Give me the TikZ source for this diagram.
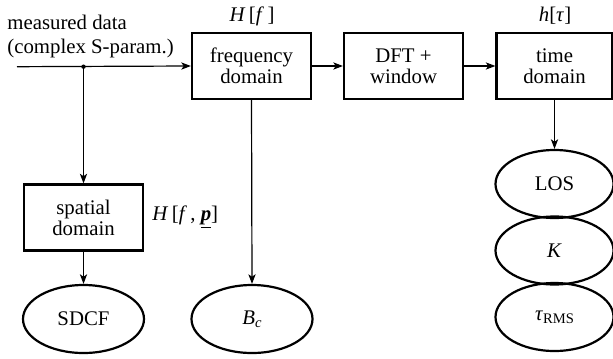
\documentclass[tikz,border=0pt]{standalone}
\usepackage{fontspec}
\setmainfont{Liberation Serif}
\usetikzlibrary{arrows.meta,shapes.geometric}
\newcommand{\vi}[1]{\textit{#1}}
\tikzset{
  blockbox/.style={draw, line width=1.1pt, minimum width=59.5pt, minimum height=33pt, inner sep=0pt, align=center, font=\fontsize{10.4}{10.4}\selectfont},
  resultell/.style={draw, ellipse, line width=1.1pt, minimum width=59pt, minimum height=34pt, inner sep=0pt, font=\fontsize{10.4}{10.4}\selectfont},
  conn/.style={line width=0.6pt, -{Stealth[length=4.8pt,width=3.6pt,inset=1.2pt]}},
  lbl/.style={inner sep=0pt, font=\fontsize{10.4}{11.6}\selectfont}
}
\begin{document}
\begin{tikzpicture}[x=0.5pt,y=-0.5pt]
\useasboundingbox (0,0) rectangle (613,358);
% blocks
\node[blockbox] (freq) at (251.5,66) {frequency\\domain};
\node[blockbox] (dft) at (403.5,66) {DFT +\\window};
\node[blockbox, minimum width=58pt] (time) at (554.5,66) {time\\domain};
\node[blockbox] (spat) at (83.5,217.5) {spatial\\domain};
% results
\node[resultell, minimum width=60.5pt] (sdcf) at (83.5,319) {SDCF};
\node[resultell, minimum width=60.5pt] (bc) at (252,319) {\vi{B}\raisebox{-0.15em}{\fontsize{7.3}{7.3}\selectfont\vi{c}}};
\node[resultell] (los) at (554.5,184) {LOS};
\node[resultell] (kf) at (554.5,250.5) {\vi{K}};
\node[resultell] (trms) at (554.5,317) {\vi{τ}\raisebox{-0.15em}{\fontsize{7.3}{7.3}\selectfont RMS}};
% labels
\node[lbl, anchor=north west, align=left] (meas) at (7,15) {measured data\\(complex S-param.)};
\node[lbl, anchor=base] (hf) at (252,22) {\vi{H}\,[\vi{f}\,]};
\node[lbl, anchor=base] (ht) at (555,22) {\vi{h}[\vi{τ}]};
\node[lbl, anchor=base west] (hfp) at (152,220) {\vi{H}\,[\vi{f}\,, \underline{\textbf{\textit{p}}}]};
% connectors
\coordinate (start) at (17,66.7);
\coordinate (split) at (83.5,66.7);
\draw[conn] (start) -- (freq.west);
\fill (split) circle[radius=1.1pt];
\draw[conn] (split) -- (spat.north);
\draw[conn] (spat.south) -- (sdcf.north);
\draw[conn] (freq.south) -- (bc.north);
\draw[conn] (freq.east) -- (dft.west);
\draw[conn] (dft.east) -- (time.west);
\draw[conn] (time.south) -- (los.north);
\end{tikzpicture}
\end{document}
